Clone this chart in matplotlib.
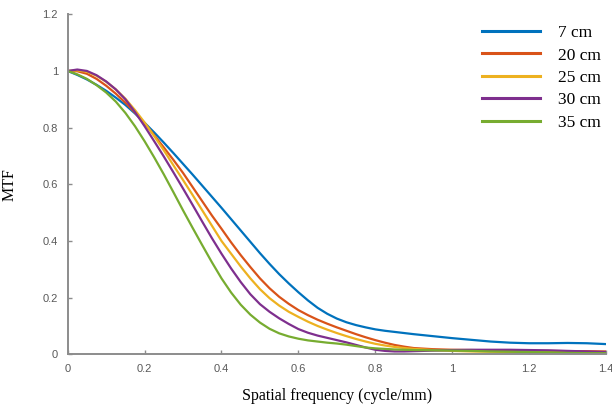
import numpy as np
import matplotlib
matplotlib.use("Agg")
import matplotlib.pyplot as plt

# MTF curves read at fixed spatial frequencies (cycle/mm)
freq = [0.0, 0.025, 0.05, 0.075, 0.1, 0.125, 0.15, 0.175, 0.2, 0.225, 0.25, 0.275,
        0.3, 0.325, 0.35, 0.375, 0.4, 0.425, 0.45, 0.475, 0.5, 0.525, 0.55, 0.575,
        0.6, 0.625, 0.65, 0.675, 0.7, 0.725, 0.75, 0.775, 0.8, 0.825, 0.85, 0.875,
        0.9, 0.95, 1.0, 1.05, 1.1, 1.15, 1.2, 1.25, 1.3, 1.35, 1.4]

mtf_7 = [1.000, 0.986, 0.970, 0.951, 0.930, 0.906, 0.880, 0.850, 0.817, 0.783, 0.747, 0.710,
         0.672, 0.634, 0.595, 0.556, 0.517, 0.477, 0.437, 0.397, 0.357, 0.319, 0.283, 0.250,
         0.219, 0.190, 0.164, 0.143, 0.126, 0.113, 0.103, 0.095, 0.088, 0.083, 0.079, 0.075,
         0.071, 0.064, 0.057, 0.051, 0.045, 0.041, 0.039, 0.039, 0.040, 0.039, 0.036]
mtf_20 = [1.000, 0.999, 0.990, 0.972, 0.948, 0.920, 0.888, 0.853, 0.815, 0.773, 0.730, 0.686,
          0.640, 0.590, 0.540, 0.490, 0.443, 0.395, 0.350, 0.308, 0.268, 0.233, 0.203, 0.178,
          0.156, 0.138, 0.122, 0.108, 0.095, 0.083, 0.071, 0.060, 0.050, 0.041, 0.033, 0.027,
          0.022, 0.018, 0.016, 0.015, 0.014, 0.013, 0.012, 0.012, 0.011, 0.011, 0.010]
mtf_25 = [1.000, 1.002, 0.997, 0.983, 0.962, 0.935, 0.902, 0.862, 0.818, 0.770, 0.720, 0.667,
          0.615, 0.562, 0.508, 0.454, 0.400, 0.355, 0.310, 0.268, 0.230, 0.198, 0.172, 0.150,
          0.132, 0.115, 0.100, 0.087, 0.075, 0.064, 0.054, 0.045, 0.037, 0.031, 0.026, 0.022,
          0.019, 0.015, 0.012, 0.010, 0.009, 0.008, 0.007, 0.006, 0.005, 0.005, 0.004]
mtf_30 = [1.000, 1.005, 1.000, 0.985, 0.963, 0.935, 0.900, 0.855, 0.805, 0.752, 0.698, 0.642,
          0.585, 0.527, 0.468, 0.410, 0.355, 0.303, 0.255, 0.212, 0.177, 0.150, 0.127, 0.107,
          0.089, 0.076, 0.066, 0.058, 0.050, 0.042, 0.033, 0.024, 0.016, 0.012, 0.010, 0.010,
          0.011, 0.013, 0.015, 0.016, 0.016, 0.016, 0.015, 0.014, 0.012, 0.010, 0.008]
mtf_35 = [1.000, 0.988, 0.972, 0.950, 0.924, 0.892, 0.852, 0.805, 0.752, 0.695, 0.635, 0.572,
          0.508, 0.446, 0.385, 0.325, 0.268, 0.218, 0.175, 0.140, 0.112, 0.090, 0.074, 0.063,
          0.055, 0.049, 0.045, 0.041, 0.038, 0.034, 0.029, 0.024, 0.021, 0.019, 0.017, 0.016,
          0.015, 0.014, 0.013, 0.012, 0.010, 0.009, 0.008, 0.007, 0.005, 0.004, 0.004]

labels = ["7 cm", "20 cm", "25 cm", "30 cm", "35 cm"]
colors = ["#0072BD", "#D95319", "#EDB120", "#7E2F8E", "#77AC30"]

fig = plt.figure(figsize=(6.12, 4.07), dpi=100)
ax = fig.add_axes([0.1106, 0.1295, 0.8796, 0.8354])

for y, lab, col in zip([mtf_7, mtf_20, mtf_25, mtf_30, mtf_35], labels, colors):
    ax.plot(freq, y, color=col, lw=1.6, label=lab, solid_joinstyle="round")

ax.set_xlim(0, 1.4)
ax.set_ylim(0, 1.2)
ax.set_xticks([0, 0.2, 0.4, 0.6, 0.8, 1, 1.2, 1.4])
ax.set_xticklabels(["0", "0.2", "0.4", "0.6", "0.8", "1", "1.2", "1.4"])
ax.set_yticks([0, 0.2, 0.4, 0.6, 0.8, 1, 1.2])
ax.set_yticklabels(["0", "0.2", "0.4", "0.6", "0.8", "1", "1.2"])

for s in ("top", "right"):
    ax.spines[s].set_visible(False)
for s in ("left", "bottom"):
    ax.spines[s].set_color("#8c8c8c")
    ax.spines[s].set_linewidth(1.4)
ax.tick_params(direction="in", length=3, width=1, color="#8c8c8c",
               labelcolor="#595959", labelsize=8, pad=7)
for t in ax.get_xticklabels() + ax.get_yticklabels():
    t.set_family("Liberation Sans")

serif = "Liberation Serif"
ax.set_xlabel("Spatial frequency (cycle/mm)", family=serif, fontsize=11.5, labelpad=10)
ax.set_ylabel("MTF", family=serif, fontsize=11.5)
ax.yaxis.set_label_coords(-0.093, 0.5)

leg = ax.legend(loc="upper left", bbox_to_anchor=(482/612, 1 - 25/407),
                bbox_transform=fig.transFigure, frameon=False,
                prop={"family": serif, "size": 12.5}, handlelength=3.35,
                handletextpad=1.05, labelspacing=0.36, borderpad=0, borderaxespad=0)
for h in leg.get_lines():
    h.set_linewidth(2.2)

fig.savefig("out.png", dpi=100)
